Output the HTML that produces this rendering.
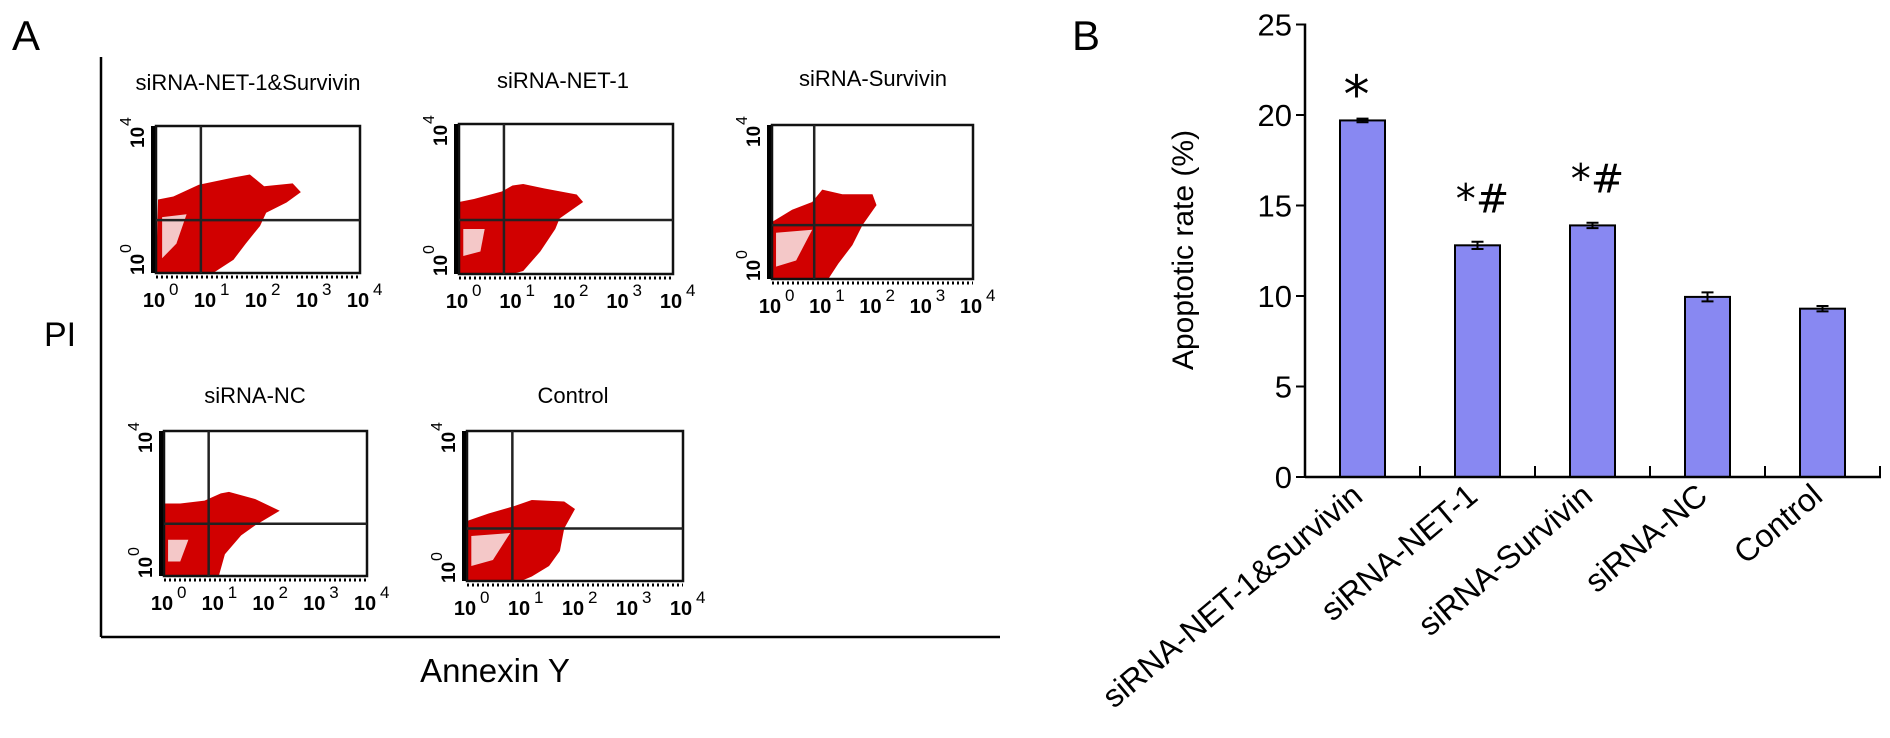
<!DOCTYPE html>
<html><head><meta charset="utf-8">
<style>
html,body{margin:0;padding:0;background:#fff;}
svg{display:block;font-family:"Liberation Sans",Arial,sans-serif;}
</style></head>
<body>
<svg id="fig" width="1890" height="738" viewBox="0 0 1890 738">
  <text x="12" y="50" font-size="42">A</text>
  <text x="1072" y="50" font-size="42">B</text>
  <g>
    <line x1="101" y1="57" x2="101" y2="637" stroke="#000" stroke-width="2.5"/>
    <line x1="101" y1="637" x2="1000" y2="637" stroke="#000" stroke-width="2.5"/>
  </g>
  <text x="60" y="346" font-size="34" text-anchor="middle">PI</text>
  <text x="495" y="682" font-size="33" text-anchor="middle">Annexin Y</text>
  <g id="flow"></g>
  <g id="bars"></g>
</svg>
<script>
// ---- Panel B data ----
const categories = ["siRNA-NET-1&Survivin","siRNA-NET-1","siRNA-Survivin","siRNA-NC","Control"];
const rates = [19.7, 12.8, 13.9, 9.95, 9.3];
const errors = [0.1, 0.2, 0.15, 0.25, 0.15];
const marks = ["*", "*#", "*#", "", ""];
const yTicks = [0, 5, 10, 15, 20, 25];

// ---- Panel A data ----
const flowTitles = ["siRNA-NET-1&Survivin","siRNA-NET-1","siRNA-Survivin","siRNA-NC","Control"];
const xDecades = ["0","1","2","3","4"];

const NS = "http://www.w3.org/2000/svg";
function mk(tag, attrs, parent){const e=document.createElementNS(NS,tag);for(const k in attrs)e.setAttribute(k,attrs[k]);parent.appendChild(e);return e;}

// Bar chart axes
const bx0 = 1305, bx1 = 1880, by0 = 477, bPerUnit = 18.1;
const band = (bx1 - bx0) / categories.length;
const xC = i => bx0 + band * (i + 0.5);
const yV = v => by0 - v * bPerUnit;
const bars = document.getElementById('bars');

yTicks.forEach(t => {
  const ln = mk('line', {x1: bx0 - 9, x2: bx0, y1: yV(t), y2: yV(t), stroke: '#000', 'stroke-width': 2}, bars);
  
  
  const tx = mk('text', {x: bx0 - 13, y: yV(t) + 11, 'font-size': 31, 'text-anchor': 'end'}, bars);
  tx.textContent = t;
  
  
});
const yl = mk('text', {x: 0, y: 0, 'font-size': 30, 'text-anchor': 'middle', transform: 'translate(1193,250) rotate(-90)'}, bars);
yl.textContent = 'Apoptotic rate (%)';



categories.forEach((c, i) => {
  const w = 45, x = xC(i) - w / 2, top = yV(rates[i]);
  const r = mk('rect', {x: x, y: top, width: w, height: by0 - top, fill: '#8888f2', stroke: '#000', 'stroke-width': 2}, bars);
  
  
  const e = mk('path', {d: `M${xC(i)-6},${yV(rates[i]+errors[i])}H${xC(i)+6}M${xC(i)},${yV(rates[i]+errors[i])}V${yV(rates[i]-errors[i])}M${xC(i)-6},${yV(rates[i]-errors[i])}H${xC(i)+6}`, stroke: '#000', 'stroke-width': 2, fill: 'none'}, bars);
  
  
  if (marks[i]) {
    const single = marks[i].length === 1;
    const m = mk('text', {x: xC(i) + (single ? -6 : 5), y: top - (single ? 8 : 33), 'font-size': single ? 52 : 40, 'text-anchor': 'middle', 'font-family': '"DejaVu Sans",sans-serif'}, bars);
    m.textContent = marks[i];
    
    
  }
  if (i > 0) {
    const tk = mk('line', {x1: bx0 + band * i, x2: bx0 + band * i, y1: by0, y2: by0 - 11, stroke: '#000', 'stroke-width': 2}, bars);
    
    
  }
  const lb = mk('text', {x: 0, y: 0, 'font-size': 32, 'text-anchor': 'end', transform: `translate(${xC(i)+2},${by0+22}) rotate(-40)`}, bars);
  lb.textContent = c;
  
  
});
const lastTk = mk('line', {x1: bx1, x2: bx1, y1: by0, y2: by0 - 11, stroke: '#000', 'stroke-width': 2}, bars);


const yAx = mk('line', {x1: bx0, x2: bx0, y1: yV(25) - 1, y2: by0 + 1, stroke: '#000', 'stroke-width': 2.5}, bars);


const xAx = mk('line', {x1: bx0, x2: bx1 + 1, y1: by0, y2: by0, stroke: '#000', 'stroke-width': 2.5}, bars);



// Flow cytometry panels (layout)
const boxes = [
  {x:156,y:126,w:204,h:147,gx:0.22,gy:0.64,tx:248,ty:90},
  {x:459,y:124,w:214,h:150,gx:0.21,gy:0.64,tx:563,ty:88},
  {x:772,y:125,w:201,h:154,gx:0.21,gy:0.65,tx:873,ty:86},
  {x:164,y:431,w:203,h:145,gx:0.22,gy:0.64,tx:255,ty:403},
  {x:467,y:431,w:216,h:150,gx:0.21,gy:0.65,tx:573,ty:403}
];
const blobs = [
  [[0,1],[0.01,0.5],[0.085,0.48],[0.21,0.40],[0.38,0.35],[0.46,0.33],[0.53,0.41],[0.67,0.39],[0.71,0.45],[0.64,0.52],[0.54,0.59],[0.51,0.68],[0.44,0.8],[0.38,0.91],[0.28,1]],
  [[0,1],[0,0.52],[0.07,0.5],[0.2,0.45],[0.25,0.41],[0.3,0.4],[0.4,0.43],[0.55,0.47],[0.58,0.52],[0.47,0.63],[0.45,0.7],[0.38,0.85],[0.3,0.98],[0.25,1]],
  [[0,1],[0,0.63],[0.1,0.55],[0.2,0.5],[0.25,0.42],[0.35,0.45],[0.5,0.45],[0.52,0.52],[0.45,0.65],[0.4,0.78],[0.33,0.9],[0.28,1]],
  [[0,1],[0,0.5],[0.08,0.5],[0.2,0.48],[0.28,0.43],[0.32,0.42],[0.45,0.47],[0.57,0.55],[0.45,0.65],[0.38,0.72],[0.3,0.85],[0.27,1]],
  [[0,1],[0,0.6],[0.1,0.55],[0.22,0.5],[0.3,0.46],[0.45,0.47],[0.5,0.52],[0.45,0.65],[0.43,0.8],[0.38,0.9],[0.3,0.97],[0.25,1]]
];
const holes = [
  [[0.03,0.62],[0.15,0.6],[0.1,0.8],[0.03,0.9]],
  [[0.02,0.7],[0.12,0.7],[0.1,0.85],[0.02,0.88]],
  [[0.02,0.7],[0.2,0.68],[0.12,0.88],[0.02,0.92]],
  [[0.02,0.75],[0.12,0.75],[0.08,0.9],[0.02,0.9]],
  [[0.02,0.7],[0.2,0.68],[0.12,0.86],[0.02,0.9]]
];
const flow = document.getElementById('flow');
boxes.forEach((b, i) => {
  const g = mk('g', {}, flow);
  
  
  const t = mk('text', {x: b.tx, y: b.ty, 'font-size': 22, 'text-anchor': 'middle'}, g);
  t.textContent = flowTitles[i];
  
  
  const pts = blobs[i].map(p => (b.x + p[0]*b.w) + ',' + (b.y + p[1]*b.h)).join(' ');
  const bl = mk('polygon', {points: pts, fill: '#d10000'}, g);
  
  
  const hp = holes[i].map(p => (b.x + p[0]*b.w) + ',' + (b.y + p[1]*b.h)).join(' ');
  const ho = mk('polygon', {points: hp, fill: '#f4c8c8'}, g);
  
  
  const r = mk('rect', {x: b.x, y: b.y, width: b.w, height: b.h, fill: 'none', stroke: '#111', 'stroke-width': 2.5}, g);
  
  
  const gv = mk('line', {x1: b.x + b.gx*b.w, x2: b.x + b.gx*b.w, y1: b.y, y2: b.y + b.h, stroke: '#222', 'stroke-width': 2.5}, g);
  
  
  const gh = mk('line', {x1: b.x, x2: b.x + b.w, y1: b.y + b.gy*b.h, y2: b.y + b.gy*b.h, stroke: '#222', 'stroke-width': 2.5}, g);
  
  
  const la = mk('line', {x1: b.x - 3, x2: b.x - 3, y1: b.y, y2: b.y + b.h, stroke: '#000', 'stroke-width': 4}, g);
  
  
  const ba = mk('line', {x1: b.x, x2: b.x + b.w, y1: b.y + b.h + 4, y2: b.y + b.h + 4, stroke: '#000', 'stroke-width': 3, 'stroke-dasharray': '2 3'}, g);
  
  
  xDecades.forEach((d, k) => {
    const tx = mk('text', {x: b.x + b.w*k/4 - 2, y: b.y + b.h + 34, 'font-size': 20, 'text-anchor': 'middle', 'font-weight': 'bold'}, g);
    tx.textContent = '10';
    
    
    const sp = mk('text', {x: b.x + b.w*k/4 + 13, y: b.y + b.h + 22, 'font-size': 17}, g);
    sp.textContent = d;
    
    
  });
  [['4', b.y + 22], ['0', b.y + b.h + 2]].forEach(p => {
    const yt = mk('text', {x: 0, y: 0, 'font-size': 19, 'font-weight': 'bold', transform: `translate(${b.x-12},${p[1]}) rotate(-90)`}, g);
    yt.textContent = '10';
    
    
    const ye = mk('text', {x: 0, y: 0, 'font-size': 16, transform: `translate(${b.x-25},${p[1]-22}) rotate(-90)`}, g);
    ye.textContent = p[0];
    
    
  });
});
</script>
</body></html>
